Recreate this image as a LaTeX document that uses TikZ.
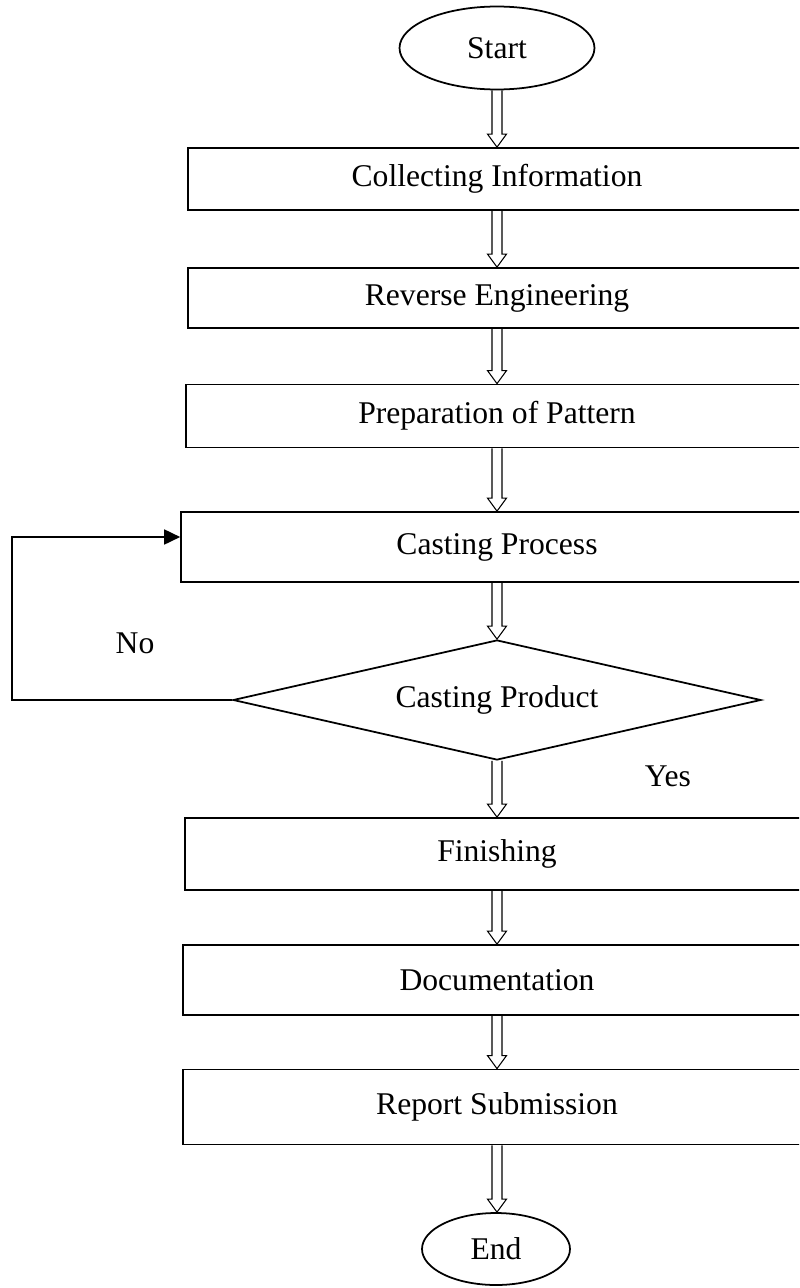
\documentclass[tikz,border=0pt]{standalone}
\usepackage{fontspec}
\setmainfont{Liberation Serif}
\usetikzlibrary{shapes.geometric,arrows.meta,calc}
\tikzset{
  box/.style={draw,line width=1pt,minimum width=12.36cm},
  term/.style={ellipse,draw,line width=1pt},
  dec/.style={diamond,draw,line width=1pt,aspect=4.4,minimum width=10.56cm,minimum height=2.4cm,inner sep=0pt},
  hollow/.style={line width=0.6pt,to path={let \p1=(\tikztostart),\p2=(\tikztotarget) in
    (\x1-2.85pt,\y1) -- (\x1-2.85pt,\y2+7.4pt) -- (\x1-5.4pt,\y2+7.4pt) -- (\x1,\y2)
    -- (\x1+5.4pt,\y2+7.4pt) -- (\x1+2.85pt,\y2+7.4pt) -- (\x1+2.85pt,\y1)}}
}
\begin{document}
\begin{tikzpicture}[x=0.02cm,y=-0.02cm,font=\fontsize{18}{21}\selectfont]
\useasboundingbox (0,0) rectangle (799,1288);
\clip (0,0) rectangle (799,1288);
\node[term,minimum width=3.9cm,minimum height=1.66cm] (start) at (497,48) {Start};
\node[box,minimum height=1.24cm] (info) at (497,179) {Collecting Information};
\node[box,minimum height=1.2cm] (rev) at (497,298) {Reverse Engineering};
\node[box,minimum width=12.44cm,minimum height=1.26cm] (pat) at (497,416) {Preparation of Pattern};
\node[box,minimum width=12.64cm,minimum height=1.4cm] (cast) at (497,547) {Casting Process};
\node[dec] (prod) at (497,700) {Casting Product};
\node[box,minimum width=12.48cm,minimum height=1.44cm] (fin) at (497,854) {Finishing};
\node[box,minimum width=12.56cm,minimum height=1.4cm] (doc) at (497,980) {Documentation};
\node[box,minimum width=12.56cm,minimum height=1.5cm] (rep) at (497,1107) {Report Submission};
\node[term,minimum width=2.96cm,minimum height=1.44cm] (end) at (496,1249) {End};
\draw[hollow] (start.south) to (info.north);
\draw[hollow] (info.south) to (rev.north);
\draw[hollow] (rev.south) to (pat.north);
\draw[hollow] (pat.south) to (cast.north);
\draw[hollow] (cast.south) to (prod.north);
\draw[hollow] (prod.south) to (fin.north);
\draw[hollow] (fin.south) to (doc.north);
\draw[hollow] (doc.south) to (rep.north);
\draw[hollow] (rep.south) to (end.north);
\coordinate (back) at (12,537);
\draw[line width=1pt,-{Triangle[length=0.32cm,width=0.3cm]}] (prod.west) -| (back) -- (back -| cast.west);
\node (no) at (135,643) {No};
\node (yes) at (668,776) {Yes};
\end{tikzpicture}
\end{document}
